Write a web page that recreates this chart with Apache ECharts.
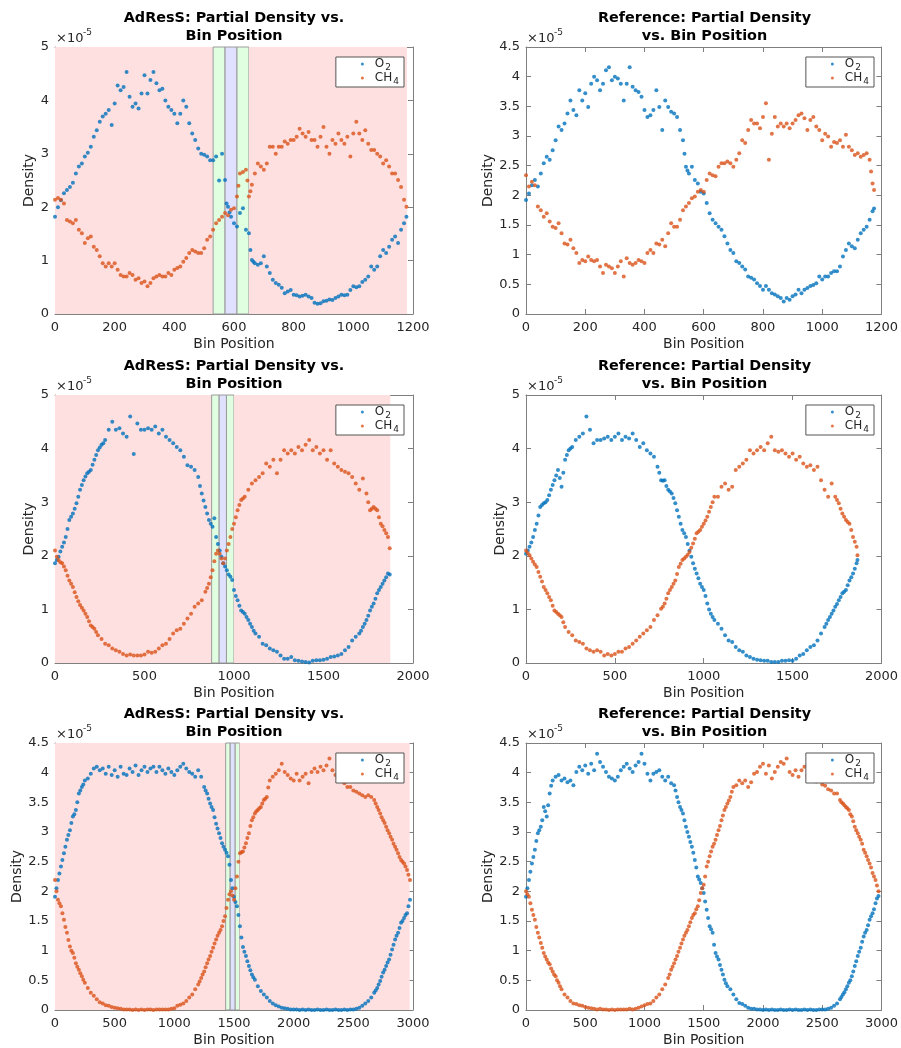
<!DOCTYPE html>
<html>
<head>
<meta charset="utf-8">
<script src="https://cdn.jsdelivr.net/npm/echarts@6/dist/echarts.min.js"></script>
<style>
html, body { margin: 0; padding: 0; background: #fff; }
#main { width: 901px; height: 1048px; }
</style>
</head>
<body>
<div id="main"></div>
<script>
"use strict";

// partial densities in units of 1e-5, one value every `step` bins starting at bin 0
// --- system 1 (~1180 bins), step 10
var o2Adres1 = [1.82,2.0,2.13,2.26,2.32,2.38,2.46,2.63,2.76,2.82,
    2.95,3.02,3.13,3.32,3.44,3.6,3.7,3.75,3.82,3.54,
    3.94,4.28,4.19,4.25,4.53,4.07,3.88,3.94,3.85,4.13,
    4.47,4.13,4.38,4.53,4.32,4.19,4.22,4.0,3.88,3.82,
    3.75,3.57,3.75,4.0,3.88,3.57,3.38,3.26,3.1,3.0,
    2.98,2.95,2.88,2.88,2.95,2.5,3.0,2.51,2.01,1.82,
    1.7,1.64,1.89,1.98,1.58,1.51,1.01,0.95,0.92,0.95,
    1.08,0.89,0.77,0.64,0.58,0.55,0.49,0.39,0.42,0.45,
    0.36,0.35,0.33,0.34,0.36,0.33,0.3,0.21,0.19,0.2,
    0.24,0.25,0.27,0.26,0.3,0.33,0.36,0.35,0.36,0.45,
    0.52,0.5,0.52,0.6,0.64,0.7,0.89,0.83,0.89,1.08,
    1.2,1.14,1.26,1.39,1.45,1.33,1.58,1.7];
var ch4Adres1 = [2.14,2.17,2.14,2.07,1.76,1.73,1.70,1.76,1.58,1.51,
    1.33,1.42,1.45,1.26,1.2,1.08,0.95,0.89,0.95,0.89,
    0.95,0.83,0.73,0.70,0.70,0.77,0.73,0.64,0.67,0.58,
    0.61,0.52,0.58,0.67,0.70,0.73,0.70,0.70,0.77,0.73,
    0.83,0.86,0.89,0.98,1.05,1.14,1.2,1.17,1.14,1.14,
    1.23,1.39,1.45,1.58,1.70,1.76,1.82,1.89,1.85,1.95,
    1.98,2.2,2.63,2.66,2.7,2.2,2.42,2.63,2.82,2.76,
    2.7,2.82,3.13,3.13,3.0,3.13,3.13,3.23,3.19,3.26,
    3.26,3.32,3.47,3.38,3.32,3.41,3.26,3.26,3.13,3.32,
    3.5,3.13,3.0,3.26,3.19,3.38,3.26,3.19,3.32,2.95,
    3.38,3.6,3.38,3.26,3.44,3.19,3.07,3.07,3.0,2.95,
    2.82,2.88,2.76,2.63,2.63,2.51,2.38,2.14];
var o2Ref1 = [1.92,2.03,2.17,2.26,2.15,2.37,2.54,2.65,2.6,2.76,
    2.93,3.16,3.1,3.21,3.38,3.6,3.44,3.35,3.77,3.6,
    3.72,3.49,3.88,4.0,3.94,3.77,3.88,4.11,4.16,3.94,
    4.0,3.97,3.88,3.6,3.88,4.16,3.83,3.77,3.74,3.66,
    3.44,3.32,3.35,3.44,3.77,3.49,3.1,3.6,3.49,3.41,
    3.38,3.32,3.1,2.93,2.48,2.37,2.48,2.26,2.2,2.06,
    2.03,1.87,1.7,1.59,1.53,1.47,1.42,1.31,1.19,1.08,
    1.03,0.89,0.86,0.8,0.75,0.63,0.61,0.58,0.52,0.47,
    0.41,0.47,0.41,0.35,0.33,0.3,0.27,0.21,0.27,0.24,
    0.3,0.33,0.41,0.35,0.41,0.44,0.47,0.49,0.52,0.63,
    0.58,0.63,0.63,0.69,0.72,0.72,0.8,0.97,1.08,1.19,
    1.14,1.11,1.25,1.36,1.42,1.47,1.59,1.73];
var ch4Ref1 = [2.34,2.15,2.23,2.17,1.81,1.75,1.64,1.7,1.56,1.47,
    1.45,1.53,1.36,1.19,1.17,1.25,1.11,1.03,0.86,0.91,
    0.89,0.97,0.91,0.89,0.91,0.8,0.69,0.83,0.8,0.77,
    0.69,0.8,0.89,0.63,0.94,0.86,0.83,0.86,0.91,0.89,
    0.86,1.03,1.08,1.03,1.19,1.17,1.25,1.14,1.36,1.53,
    1.47,1.47,1.59,1.75,1.81,1.87,1.95,1.98,2.06,2.09,
    2.06,2.26,2.37,2.34,2.32,2.48,2.54,2.54,2.57,2.54,
    2.48,2.6,2.71,2.93,2.88,3.1,3.27,3.21,3.21,3.13,
    3.32,3.55,2.6,3.04,3.32,3.16,3.21,3.16,3.21,3.13,
    3.21,3.27,3.35,3.38,3.3,3.1,3.27,3.32,3.16,3.1,
    2.93,3.04,2.99,2.82,2.9,2.88,2.93,2.82,3.02,2.82,
    2.76,2.68,2.71,2.65,2.68,2.71,2.6,2.2];

// --- system 2 (~1870 bins), step 20
var o2Adres2 = [1.86,1.98,2.17,2.35,2.67,2.79,2.98,3.23,3.41,3.54,
    3.6,3.79,3.97,4.07,4.16,4.35,4.5,4.35,4.38,4.28,
    4.22,4.6,3.9,4.47,4.35,4.35,4.38,4.35,4.41,4.28,
    4.35,4.22,4.16,4.1,4.03,3.97,3.85,3.69,3.66,3.6,
    3.47,3.16,2.91,2.67,2.54,2.35,2.1,1.86,1.73,1.61,
    1.36,1.17,0.98,0.92,0.8,0.67,0.55,0.49,0.36,0.33,
    0.27,0.24,0.21,0.14,0.08,0.08,0.11,0.05,0.04,0.03,
    0.02,0.01,0.04,0.05,0.05,0.06,0.08,0.11,0.12,0.14,
    0.17,0.24,0.3,0.42,0.49,0.55,0.67,0.8,0.98,1.11,
    1.3,1.42,1.54,1.67];
var ch4Adres2 = [2.1,1.92,1.86,1.73,1.54,1.42,1.23,1.08,0.98,0.86,
    0.7,0.64,0.52,0.45,0.36,0.33,0.27,0.24,0.21,0.17,
    0.14,0.16,0.14,0.14,0.14,0.16,0.21,0.19,0.21,0.27,
    0.33,0.36,0.45,0.55,0.61,0.64,0.73,0.83,0.92,1.05,
    1.11,1.17,1.33,1.48,1.73,2.04,2.04,1.86,2.1,2.35,
    2.6,2.85,3.04,3.1,3.23,3.35,3.41,3.47,3.54,3.72,
    3.66,3.79,3.54,3.79,3.97,3.91,3.97,3.91,4.03,3.97,
    4.07,4.16,3.97,4.03,3.91,3.97,3.79,3.97,3.72,3.66,
    3.6,3.57,3.54,3.47,3.35,3.23,3.44,3.16,2.85,2.91,
    2.85,2.6,2.48,2.35];
var o2Ref2 = [2.04,2.17,2.35,2.6,2.91,2.98,3.04,3.23,3.41,3.6,
    3.29,3.79,3.97,4.03,4.16,4.22,4.28,4.6,4.35,4.1,
    4.16,4.16,4.19,4.22,4.16,4.22,4.28,4.16,4.22,4.19,
    4.28,4.16,4.03,4.1,3.97,3.91,3.85,3.66,3.41,3.41,
    3.23,3.16,2.98,2.73,2.48,2.35,2.1,1.86,1.67,1.48,
    1.36,1.11,0.92,0.8,0.73,0.64,0.52,0.42,0.39,0.3,
    0.24,0.21,0.14,0.11,0.08,0.06,0.05,0.04,0.04,0.02,
    0.02,0.02,0.04,0.04,0.05,0.04,0.08,0.14,0.17,0.24,
    0.3,0.33,0.42,0.55,0.67,0.8,0.92,1.05,1.17,1.3,
    1.36,1.54,1.67,1.86];
var ch4Ref2 = [2.1,2.01,1.89,1.79,1.61,1.42,1.3,1.17,0.98,0.92,
    0.86,0.67,0.58,0.52,0.42,0.39,0.36,0.27,0.24,0.21,
    0.24,0.21,0.14,0.17,0.14,0.17,0.21,0.21,0.27,0.3,
    0.36,0.42,0.49,0.55,0.61,0.67,0.8,0.89,1.01,1.11,
    1.3,1.42,1.54,1.79,1.92,1.98,2.07,2.23,2.42,2.48,
    2.6,2.73,2.91,3.1,3.1,3.29,3.35,3.23,3.29,3.6,
    3.66,3.72,3.79,3.97,3.91,3.97,4.03,3.97,4.1,4.22,
    3.97,3.94,3.97,3.91,3.85,3.91,3.79,3.85,3.72,3.66,
    3.69,3.6,3.66,3.41,3.23,3.1,3.35,3.1,2.98,2.79,
    2.67,2.6,2.35,2.17];

// --- system 3 (~2970 bins), step 25
var o2Adres3 = [1.91,2.19,2.42,2.64,2.87,3.03,3.26,3.37,3.65,3.76,
    3.87,3.9,3.98,4.07,4.1,4.04,4.07,3.98,4.1,3.96,
    4.04,3.93,4.1,3.98,3.96,4.07,4.01,4.12,3.96,4.04,
    4.1,4.01,4.07,4.1,4.01,4.1,4.04,3.98,4.07,4.01,
    3.96,4.04,4.1,4.15,4.07,4.01,3.98,3.93,4.04,3.93,
    3.76,3.65,3.48,3.37,3.14,2.98,2.81,2.7,2.59,2.19,
    1.91,1.75,1.41,1.06,0.91,0.74,0.6,0.51,0.4,0.32,
    0.26,0.21,0.15,0.11,0.08,0.06,0.04,0.03,0.02,0.01,
    0.01,0.01,0.0,0.01,0.0,0.01,0.0,0.0,0.01,0.0,
    0.0,0.01,0.0,0.0,0.01,0.0,0.0,0.01,0.0,0.01,
    0.01,0.02,0.04,0.07,0.11,0.15,0.21,0.29,0.37,0.49,
    0.63,0.74,0.85,1.02,1.19,1.3,1.47,1.55,1.63,1.86];
var ch4Adres3 = [2.19,1.86,1.75,1.52,1.3,1.07,0.96,0.79,0.68,0.57,
    0.46,0.37,0.29,0.24,0.18,0.13,0.11,0.08,0.07,0.05,
    0.04,0.03,0.02,0.01,0.01,0.01,0.0,0.01,0.0,0.01,
    0.0,0.01,0.01,0.0,0.01,0.01,0.01,0.01,0.01,0.02,
    0.03,0.07,0.09,0.11,0.15,0.21,0.26,0.35,0.43,0.54,
    0.65,0.79,0.91,1.05,1.19,1.3,1.41,1.58,1.86,2.0,
    1.86,2.25,2.64,2.67,2.81,2.98,3.2,3.31,3.37,3.42,
    3.54,3.59,3.87,3.93,3.98,4.04,4.15,4.01,3.96,3.9,
    3.87,3.98,3.87,3.93,3.98,3.82,4.01,4.07,4.01,4.1,
    4.04,4.12,4.24,4.04,3.96,3.93,3.87,3.82,3.76,3.76,
    3.7,3.68,3.65,3.62,3.59,3.62,3.59,3.54,3.42,3.31,
    3.2,3.09,2.98,2.87,2.75,2.64,2.53,2.47,2.36,2.19];
var o2Ref3 = [1.91,2.19,2.47,2.7,2.98,3.09,3.42,3.26,3.65,3.87,
    3.93,3.96,3.87,3.9,3.84,3.87,3.79,4.01,4.1,4.04,
    4.12,3.98,4.15,4.04,4.32,4.18,4.1,4.01,3.93,3.9,
    3.87,3.93,4.04,4.1,4.15,4.07,4.01,4.12,4.18,4.32,
    4.15,3.98,3.87,3.98,4.01,4.04,3.93,3.87,3.93,3.82,
    3.79,3.59,3.42,3.31,3.09,2.92,2.75,2.53,2.25,2.14,
    1.97,1.69,1.41,1.3,0.96,0.85,0.68,0.51,0.4,0.35,
    0.26,0.18,0.12,0.1,0.07,0.04,0.02,0.02,0.01,0.01,
    0.0,0.01,0.0,0.01,0.0,0.0,0.01,0.0,0.0,0.01,
    0.0,0.01,0.0,0.0,0.01,0.0,0.01,0.0,0.0,0.01,
    0.01,0.01,0.02,0.04,0.07,0.11,0.18,0.26,0.35,0.46,
    0.57,0.74,0.91,1.05,1.24,1.35,1.52,1.63,1.8,1.92];
var ch4Ref3 = [2.0,1.91,1.69,1.52,1.3,1.13,0.96,0.85,0.77,0.65,
    0.57,0.46,0.35,0.26,0.21,0.15,0.11,0.1,0.08,0.07,
    0.05,0.04,0.03,0.02,0.01,0.02,0.01,0.01,0.0,0.01,
    0.0,0.01,0.01,0.01,0.01,0.02,0.01,0.02,0.04,0.06,
    0.08,0.1,0.11,0.15,0.21,0.26,0.35,0.43,0.54,0.68,
    0.79,0.91,1.05,1.19,1.3,1.41,1.55,1.63,1.75,1.97,
    2.11,2.42,2.59,2.75,2.87,3.03,3.2,3.37,3.48,3.59,
    3.76,3.79,3.87,3.82,3.87,3.76,3.84,3.98,4.01,4.1,
    4.15,3.98,4.12,3.9,4.01,4.1,4.18,4.15,4.24,4.01,
    3.96,4.04,3.93,4.04,4.1,3.95,3.9,3.92,3.85,3.88,
    3.8,3.78,3.72,3.7,3.65,3.65,3.54,3.48,3.42,3.37,
    3.26,3.09,2.98,2.87,2.7,2.59,2.47,2.31,2.19,2.0];

// extra readings [bin, density] taken where the curves are steep
var o2Adres1Steep = [[575,2.07],[585,1.9],[655,1.2],[665,0.98],[1178,1.82]];
var ch4Adres1Steep = [[615,2.4],[645,2.5],[655,2.3],[1178,2.01]];
var o2Ref1Steep = [[535,2.7],[545,2.42],[1175,1.78]];
var ch4Ref1Steep = [[1165,2.4],[1175,2.09]];
var o2Adres2Steep = [[10,1.92],[30,2.08],[50,2.25],[70,2.5],[90,2.73],[110,2.88],[130,3.1],[150,3.32],[170,3.48],[190,3.57],[210,3.7],[230,3.88],[250,4.02],[270,4.1],
    [810,3.3],[830,3.03],[850,2.79],[870,2.6],[890,2.7],[910,2.22],[930,1.98],[950,1.8],[970,1.65],[990,1.55],[1010,1.25],[1030,1.07],[1050,0.95],[1070,0.86],[1090,0.73],[1110,0.6],
    [1710,0.6],[1730,0.73],[1750,0.88],[1770,1.05],[1790,1.2],[1810,1.36],[1830,1.48],[1850,1.6],[1870,1.65]];
var ch4Adres2Steep = [[10,1.98],[30,1.88],[50,1.8],[70,1.63],[90,1.48],[110,1.32],[130,1.15],[150,1.03],[170,0.92],[190,0.78],[210,0.67],[230,0.58],
    [850,1.4],[870,1.6],[890,1.9],[910,2.1],[930,1.95],[950,1.95],[970,2.22],[990,2.5],[1010,2.72],[1030,2.95],[1050,3.07],
    [1750,3.0],[1770,2.88],[1790,2.88],[1810,2.72],[1830,2.55],[1850,2.42],[1870,2.14]];
var o2Ref2Steep = [[10,2.1],[30,2.25],[50,2.48],[70,2.75],[90,2.95],[110,3.0],[130,3.13],[150,3.32],[170,3.5],[190,3.45],[210,3.55],[230,3.88],[250,4.0],
    [750,3.55],[770,3.4],[790,3.3],[810,3.2],[830,3.08],[850,2.85],[870,2.6],[890,2.42],[910,2.22],[930,1.98],[950,1.76],[970,1.58],[990,1.42],[1010,1.25],[1030,1.0],[1050,0.86],
    [1690,0.73],[1710,0.86],[1730,0.98],[1750,1.1],[1770,1.23],[1790,1.33],[1810,1.45],[1830,1.6],[1850,1.76],[1865,1.92]];
var ch4Ref2Steep = [[10,2.05],[30,1.95],[50,1.84],[70,1.7],[90,1.52],[110,1.36],[130,1.23],[150,1.07],[170,0.95],[190,0.89],[210,0.76],
    [770,1.05],[790,1.2],[810,1.36],[830,1.48],[850,1.66],[870,1.85],[890,1.95],[910,2.02],[930,2.15],[950,2.32],[970,2.45],[990,2.54],[1010,2.66],[1030,2.82],[1050,3.0],
    [1750,3.04],[1770,2.88],[1790,2.73],[1810,2.63],[1830,2.48],[1850,2.26],[1865,2.01]];
var o2Adres3Steep = [[12,2.05],[37,2.3],[62,2.53],[87,2.75],[112,2.95],[137,3.15],[162,3.3],[187,3.5],[212,3.7],[237,3.8],
    [1262,3.7],[1287,3.56],[1312,3.42],[1337,3.25],[1362,3.06],[1387,2.9],[1412,2.75],[1437,2.65],[1462,2.45],[1487,2.05],[1512,1.82],[1537,1.6],[1562,1.22],[1587,0.98],[1612,0.82],[1637,0.67],[1662,0.55],
    [2687,0.33],[2712,0.43],[2737,0.56],[2762,0.68],[2787,0.8],[2812,0.93],[2837,1.1],[2862,1.25],[2887,1.38],[2912,1.5],[2937,1.6],[2962,1.75]];
var ch4Adres3Steep = [[12,2.0],[37,1.8],[62,1.63],[87,1.4],[112,1.18],[137,1.0],[162,0.88],[187,0.73],[212,0.62],[237,0.51],
    [1212,0.48],[1237,0.6],[1262,0.72],[1287,0.85],[1312,0.98],[1337,1.12],[1362,1.25],[1387,1.35],[1412,1.5],[1437,1.72],[1462,1.95],[1487,1.93],
    [1512,2.05],[1537,2.5],[1562,2.66],[1587,2.74],[1612,2.9],[1637,3.1],[1662,3.25],[1687,3.35],[1712,3.4],[1737,3.48],[1762,3.56],[1787,3.75],
    [2687,3.48],[2712,3.37],[2737,3.25],[2762,3.15],[2787,3.03],[2812,2.92],[2837,2.8],[2862,2.7],[2887,2.58],[2912,2.5],[2937,2.42],[2962,2.28]];
var o2Ref3Steep = [[12,2.05],[37,2.33],[62,2.58],[87,2.85],[112,3.03],[137,3.2],[162,3.35],[187,3.45],[212,3.78],
    [1262,3.7],[1287,3.5],[1312,3.37],[1337,3.2],[1362,3.0],[1387,2.83],[1412,2.65],[1437,2.4],[1462,2.2],[1487,2.05],[1512,1.83],[1537,1.55],[1562,1.36],[1587,1.1],[1612,0.9],[1637,0.76],[1662,0.6],[1687,0.45],
    [2662,0.22],[2687,0.3],[2712,0.4],[2737,0.5],[2762,0.65],[2787,0.82],[2812,0.98],[2837,1.15],[2862,1.3],[2887,1.43],[2912,1.58],[2937,1.7],[2962,1.88]];
var ch4Ref3Steep = [[12,1.95],[37,1.8],[62,1.6],[87,1.4],[112,1.22],[137,1.05],[162,0.9],[187,0.8],[212,0.7],[237,0.6],[262,0.5],[287,0.4],
    [1212,0.6],[1237,0.73],[1262,0.85],[1287,0.98],[1312,1.12],[1337,1.25],[1362,1.35],[1387,1.48],[1412,1.6],[1437,1.7],[1462,1.85],[1487,2.05],[1512,2.25],[1537,2.5],[1562,2.67],[1587,2.8],[1612,2.95],[1637,3.1],[1662,3.28],[1687,3.42],[1712,3.53],[1737,3.68],
    [2662,3.5],[2687,3.45],[2712,3.4],[2737,3.3],[2762,3.18],[2787,3.03],[2812,2.92],[2837,2.8],[2862,2.65],[2887,2.53],[2912,2.4],[2937,2.25],[2962,2.1]];

// AdResS region boundaries (bins): atomistic | hybrid | coarse | hybrid | atomistic
var bands1 = [0, 530, 570, 610, 650, 1180];
var bands2 = [0, 875, 917, 958, 1000, 1873];
var bands3 = [0, 1430, 1468, 1510, 1547, 2972];

var panels = [
    { title: ['AdResS: Partial Density vs.', 'Bin Position'], step: 10, o2: o2Adres1, ch4: ch4Adres1, o2x: o2Adres1Steep, ch4x: ch4Adres1Steep, xMax: 1200, xStep: 200, yMax: 5, yStep: 1, bands: bands1 },
    { title: ['Reference: Partial Density', 'vs. Bin Position'], step: 10, o2: o2Ref1, ch4: ch4Ref1, o2x: o2Ref1Steep, ch4x: ch4Ref1Steep, xMax: 1200, xStep: 200, yMax: 4.5, yStep: 0.5 },
    { title: ['AdResS: Partial Density vs.', 'Bin Position'], step: 20, o2: o2Adres2, ch4: ch4Adres2, o2x: o2Adres2Steep, ch4x: ch4Adres2Steep, xMax: 2000, xStep: 500, yMax: 5, yStep: 1, bands: bands2 },
    { title: ['Reference: Partial Density', 'vs. Bin Position'], step: 20, o2: o2Ref2, ch4: ch4Ref2, o2x: o2Ref2Steep, ch4x: ch4Ref2Steep, xMax: 2000, xStep: 500, yMax: 5, yStep: 1 },
    { title: ['AdResS: Partial Density vs.', 'Bin Position'], step: 25, o2: o2Adres3, ch4: ch4Adres3, o2x: o2Adres3Steep, ch4x: ch4Adres3Steep, xMax: 3000, xStep: 500, yMax: 4.5, yStep: 0.5, bands: bands3 },
    { title: ['Reference: Partial Density', 'vs. Bin Position'], step: 25, o2: o2Ref3, ch4: ch4Ref3, o2x: o2Ref3Steep, ch4x: ch4Ref3Steep, xMax: 3000, xStep: 500, yMax: 4.5, yStep: 0.5 }
];

var cells = [
    { left: 55, top: 47, width: 358, height: 267 },
    { left: 526, top: 47, width: 357, height: 267 },
    { left: 55, top: 395, width: 358, height: 268 },
    { left: 526, top: 395, width: 357, height: 268 },
    { left: 55, top: 743, width: 358, height: 268 },
    { left: 526, top: 743, width: 357, height: 268 }
];

var FONT = 'DejaVu Sans';
var TEXT = '#262626';
var FRAME = '#7f7f7f';
var bandColors = ['#ffe0e0', '#e0ffe0', '#e0e0ff', '#e0ffe0', '#ffe0e0'];

function toPoints(values, step, extra) {
    var pts = values.map(function (v, i) { return [i * step, v]; });
    return pts.concat(extra || []);
}

function bandAreas(b) {
    var out = [];
    for (var i = 0; i < b.length - 1; i++) {
        var edge = (i == 0 || i == b.length - 2) ? 'transparent' : '#9a9a9a';
        out.push([
            { xAxis: b[i], itemStyle: { color: bandColors[i], borderColor: edge, borderWidth: 1 } },
            { xAxis: b[i + 1] }
        ]);
    }
    return out;
}

function plainNumber(v) {
    return String(v);
}

var option = {
    animation: false,
    backgroundColor: '#fff',
    textStyle: { fontFamily: FONT },
    grid: [], xAxis: [], yAxis: [], series: [], legend: [], graphic: []
};

panels.forEach(function (p, k) {
    var c = cells[k];
    option.grid.push({ left: c.left, top: c.top, width: c.width, height: c.height, show: false });

    var tick = { show: true, inside: true, length: 5, lineStyle: { color: FRAME } };
    var line = { show: true, onZero: false, lineStyle: { color: FRAME, width: 1 } };
    var yGap = (p.yStep < 1) ? 31 : 18;

    option.xAxis.push({
        gridIndex: k, type: 'value', min: 0, max: p.xMax, interval: p.xStep,
        axisLine: line, axisTick: tick, splitLine: { show: false },
        axisLabel: { color: TEXT, fontSize: 13, margin: 7, fontFamily: FONT, formatter: plainNumber },
        name: 'Bin Position', nameLocation: 'middle', nameGap: 23,
        nameTextStyle: { color: TEXT, fontSize: 14, fontFamily: FONT }
    });
    option.xAxis.push({
        gridIndex: k, type: 'value', position: 'top', min: 0, max: p.xMax, interval: p.xStep,
        axisLine: line, axisTick: tick, axisLabel: { show: false }, splitLine: { show: false }
    });
    option.yAxis.push({
        gridIndex: k, type: 'value', min: 0, max: p.yMax, interval: p.yStep,
        axisLine: line, axisTick: tick, splitLine: { show: false },
        axisLabel: { color: TEXT, fontSize: 13, margin: 6, fontFamily: FONT, formatter: plainNumber },
        name: 'Density', nameLocation: 'middle', nameGap: yGap,
        nameTextStyle: { color: TEXT, fontSize: 14, fontFamily: FONT }
    });
    option.yAxis.push({
        gridIndex: k, type: 'value', position: 'right', min: 0, max: p.yMax, interval: p.yStep,
        axisLine: line, axisTick: tick, axisLabel: { show: false }, splitLine: { show: false }
    });

    var o2Series = {
        name: 'O2', type: 'scatter', xAxisIndex: 2 * k, yAxisIndex: 2 * k,
        data: toPoints(p.o2, p.step, p.o2x), symbolSize: 4,
        itemStyle: { color: '#0072bd' }, silent: true
    };
    if (p.bands) {
        o2Series.markArea = { silent: true, data: bandAreas(p.bands) };
    }
    option.series.push(o2Series);
    option.series.push({
        name: 'CH4', type: 'scatter', xAxisIndex: 2 * k, yAxisIndex: 2 * k,
        data: toPoints(p.ch4, p.step, p.ch4x), symbolSize: 4,
        itemStyle: { color: '#d95319' }, silent: true
    });

    option.legend.push({
        orient: 'vertical',
        right: 901 - (c.left + c.width) + 9,
        top: c.top + 10,
        backgroundColor: '#fff',
        borderColor: '#555',
        borderWidth: 1,
        borderRadius: 0,
        padding: [1, 5, 1, 25],
        itemGap: 0,
        itemWidth: 3,
        itemHeight: 3,
        selectedMode: false,
        data: [{ name: 'O2', icon: 'circle' }, { name: 'CH4', icon: 'circle' }],
        formatter: function (name) {
            return name == 'O2' ? 'O{sub|2}' : 'CH{sub|4}';
        },
        textStyle: {
            color: TEXT, fontSize: 12, fontFamily: FONT, padding: [0, 0, 0, 6],
            rich: { sub: { fontSize: 9, fontFamily: FONT, color: TEXT, padding: [7, 0, 0, 1] } }
        }
    });

    var cx = c.left + c.width / 2;
    option.graphic.push({
        type: 'text', x: cx, y: c.top - 29, silent: true,
        style: { text: p.title[0], align: 'center', verticalAlign: 'middle',
                 font: 'bold 14.4px "DejaVu Sans"', fill: '#000' }
    });
    option.graphic.push({
        type: 'text', x: cx, y: c.top - 11, silent: true,
        style: { text: p.title[1], align: 'center', verticalAlign: 'middle',
                 font: 'bold 14.4px "DejaVu Sans"', fill: '#000' }
    });
    option.graphic.push({
        type: 'text', x: c.left + 1, y: c.top - 8, silent: true,
        style: { text: '\u00d710', align: 'left', verticalAlign: 'middle',
                 font: '13px "DejaVu Sans"', fill: TEXT }
    });
    option.graphic.push({
        type: 'text', x: c.left + 28, y: c.top - 14, silent: true,
        style: { text: '-5', align: 'left', verticalAlign: 'middle',
                 font: '9px "DejaVu Sans"', fill: TEXT }
    });
});

var myChart = echarts.init(document.getElementById('main'), null, { renderer: 'canvas' });
myChart.setOption(option);
</script>
</body>
</html>
